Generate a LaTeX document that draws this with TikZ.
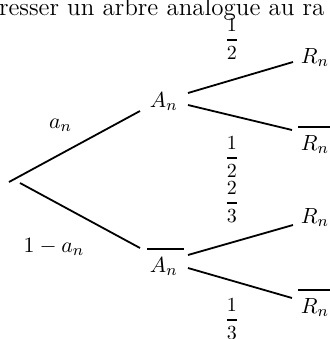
\documentclass[tikz,border=0pt]{standalone}
\usepackage{amsmath}
\newcommand{\ovl}[1]{\sbox0{$#1$}\rlap{\hspace*{-1.5pt}\raisebox{10.8pt}{\rule{\dimexpr\wd0+4.5pt\relax}{1.2pt}}}\usebox0}
\newcommand{\fr}[2]{$\genfrac{}{}{0.9pt}{0}{#1}{#2}$}
\begin{document}
\begin{tikzpicture}[x=0.5pt,y=-0.5pt,
  every node/.style={inner sep=0pt,outer sep=0pt},
  lbl/.style={font=\fontsize{11}{13}\selectfont,anchor=base west},
  prob/.style={font=\fontsize{10}{12}\selectfont,anchor=base},
  branch/.style={line width=0.9pt}]
\useasboundingbox (0,0) rectangle (330,339);
\clip (0,0) rectangle (330,339);
\node[anchor=base west,font=\fontsize{12.5}{14}\selectfont] (head) at (-1,15) {resser un arbre analogue au ra};
\coordinate (root1) at (9,182);
\coordinate (root2) at (20,183);
\node[lbl] (A) at (150,107) {$A_n$};
\node[lbl] (Ab) at (150,272) {\ovl{A_n}};
\node[lbl] (R1) at (301,63) {$R_n$};
\node[lbl] (Rb1) at (301,150) {\ovl{R_n}};
\node[lbl] (R2) at (301,223) {$R_n$};
\node[lbl] (Rb2) at (301,313) {\ovl{R_n}};
\node[lbl] (la) at (49,128) {$a_n$};
\node[lbl,anchor=base] (lb) at (54,252) {$1-a_n$};
\node[prob] (p1) at (232,45) {\fr{1}{2}};
\node[prob] (p2) at (232,163) {\fr{1}{2}};
\node[prob] (p3) at (232,208) {\fr{2}{3}};
\node[prob] (p4) at (232,325) {\fr{1}{3}};
\draw[branch] (root1) -- ([shift={(-10,4)}]A.base west);
\draw[branch] (root2) -- ([shift={(-10,-24)}]Ab.base west);
\draw[branch] ([shift={(38,-14)}]A.base west) -- ([shift={(-8,-1)}]R1.base west);
\draw[branch] ([shift={(38,-2)}]A.base west) -- ([shift={(-9,-20)}]Rb1.base west);
\draw[branch] ([shift={(38,-17)}]Ab.base west) -- ([shift={(-8,2)}]R2.base west);
\draw[branch] ([shift={(38,-4)}]Ab.base west) -- ([shift={(-9,-15)}]Rb2.base west);
\end{tikzpicture}
\end{document}
